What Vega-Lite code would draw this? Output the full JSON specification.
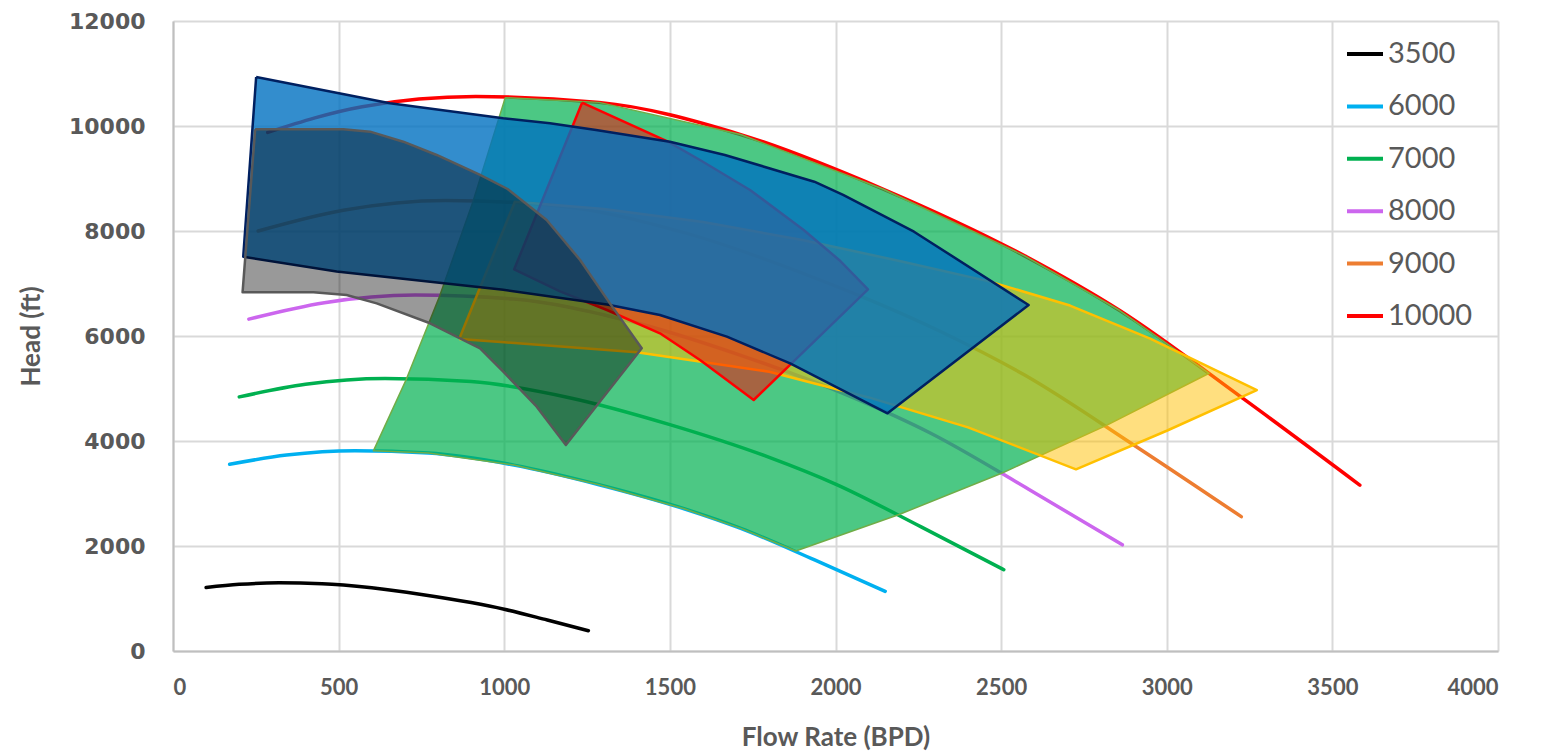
{
  "$schema": "https://vega.github.io/schema/vega-lite/v6.json",
  "width": 1325,
  "height": 630,
  "autosize": {"type": "none"},
  "padding": {"left": 173, "top": 21, "right": 46, "bottom": 103},
  "background": "white",
  "config": {
    "view": {"stroke": null},
    "font": "Lato",
    "axis": {
      "grid": true, "gridColor": "#D9D9D9", "gridWidth": 2,
      "domainColor": "#BFBFBF", "domainWidth": 2, "ticks": false,
      "labelColor": "#595959", "labelFontWeight": "bold",
      "titleColor": "#595959", "titleFontWeight": "bold", "titleFontSize": 26, "titleFont": "Lato"
    },
    "legend": {
      "orient": "none", "legendX": 1172, "legendY": 13, "padding": 0,
      "symbolType": "stroke", "symbolSize": 1296, "symbolStrokeWidth": 4,
      "labelFontSize": 29, "labelColor": "#595959", "labelFont": "Lato",
      "rowPadding": 17.4, "labelOffset": 3
    }
  },
  "datasets": {
    "curves": [
      {"speed": "3500", "q": 100, "h": 1210}, {"speed": "3500", "q": 200, "h": 1270}, {"speed": "3500", "q": 320, "h": 1298}, {"speed": "3500", "q": 450, "h": 1283}, {"speed": "3500", "q": 600, "h": 1205}, {"speed": "3500", "q": 750, "h": 1078}, {"speed": "3500", "q": 900, "h": 922}, {"speed": "3500", "q": 1000, "h": 795}, {"speed": "3500", "q": 1130, "h": 590}, {"speed": "3500", "q": 1254, "h": 387},
      {"speed": "6000", "q": 171, "h": 3556}, {"speed": "6000", "q": 343, "h": 3732}, {"speed": "6000", "q": 549, "h": 3815}, {"speed": "6000", "q": 771, "h": 3770}, {"speed": "6000", "q": 1029, "h": 3541}, {"speed": "6000", "q": 1286, "h": 3168}, {"speed": "6000", "q": 1543, "h": 2710}, {"speed": "6000", "q": 1714, "h": 2336}, {"speed": "6000", "q": 1937, "h": 1734}, {"speed": "6000", "q": 2150, "h": 1137},
      {"speed": "7000", "q": 200, "h": 4840}, {"speed": "7000", "q": 400, "h": 5080}, {"speed": "7000", "q": 640, "h": 5192}, {"speed": "7000", "q": 900, "h": 5132}, {"speed": "7000", "q": 1200, "h": 4820}, {"speed": "7000", "q": 1500, "h": 4312}, {"speed": "7000", "q": 1800, "h": 3688}, {"speed": "7000", "q": 2000, "h": 3180}, {"speed": "7000", "q": 2260, "h": 2360}, {"speed": "7000", "q": 2508, "h": 1548},
      {"speed": "8000", "q": 229, "h": 6322}, {"speed": "8000", "q": 457, "h": 6635}, {"speed": "8000", "q": 731, "h": 6781}, {"speed": "8000", "q": 1029, "h": 6703}, {"speed": "8000", "q": 1371, "h": 6295}, {"speed": "8000", "q": 1714, "h": 5632}, {"speed": "8000", "q": 2057, "h": 4817}, {"speed": "8000", "q": 2286, "h": 4153}, {"speed": "8000", "q": 2583, "h": 3082}, {"speed": "8000", "q": 2866, "h": 2022},
      {"speed": "9000", "q": 257, "h": 8001}, {"speed": "9000", "q": 514, "h": 8397}, {"speed": "9000", "q": 823, "h": 8583}, {"speed": "9000", "q": 1157, "h": 8483}, {"speed": "9000", "q": 1543, "h": 7968}, {"speed": "9000", "q": 1929, "h": 7128}, {"speed": "9000", "q": 2314, "h": 6096}, {"speed": "9000", "q": 2571, "h": 5257}, {"speed": "9000", "q": 2906, "h": 3901}, {"speed": "9000", "q": 3225, "h": 2559},
      {"speed": "10000", "q": 286, "h": 9878}, {"speed": "10000", "q": 571, "h": 10367}, {"speed": "10000", "q": 914, "h": 10560}, {"speed": "10000", "q": 1286, "h": 10450}, {"speed": "10000", "q": 1714, "h": 9837}, {"speed": "10000", "q": 2143, "h": 8800}, {"speed": "10000", "q": 2571, "h": 7527}, {"speed": "10000", "q": 2857, "h": 6490}, {"speed": "10000", "q": 3229, "h": 4816}, {"speed": "10000", "q": 3583, "h": 3159}
    ],
    "polys": [
      {"poly": "g", "i": 0, "q": 1003, "h": 10540}, {"poly": "g", "i": 1, "q": 1286, "h": 10450}, {"poly": "g", "i": 2, "q": 1714, "h": 9837}, {"poly": "g", "i": 3, "q": 2143, "h": 8800}, {"poly": "g", "i": 4, "q": 2571, "h": 7527}, {"poly": "g", "i": 5, "q": 2857, "h": 6490}, {"poly": "g", "i": 6, "q": 3128, "h": 5290}, {"poly": "g", "i": 7, "q": 2818, "h": 4298}, {"poly": "g", "i": 8, "q": 2505, "h": 3396}, {"poly": "g", "i": 9, "q": 2192, "h": 2600}, {"poly": "g", "i": 10, "q": 1880, "h": 1905}, {"poly": "g", "i": 11, "q": 1714, "h": 2336}, {"poly": "g", "i": 12, "q": 1543, "h": 2710}, {"poly": "g", "i": 13, "q": 1286, "h": 3168}, {"poly": "g", "i": 14, "q": 1029, "h": 3541}, {"poly": "g", "i": 15, "q": 771, "h": 3770}, {"poly": "g", "i": 16, "q": 605, "h": 3812}, {"poly": "g", "i": 17, "q": 704, "h": 5170}, {"poly": "g", "i": 18, "q": 805, "h": 6760}, {"poly": "g", "i": 19, "q": 905, "h": 8550}, {"poly": "g", "i": 20, "q": 1003, "h": 10540},
      {"poly": "y", "i": 0, "q": 864, "h": 5943}, {"poly": "y", "i": 1, "q": 1032, "h": 8558}, {"poly": "y", "i": 2, "q": 1300, "h": 8420}, {"poly": "y", "i": 3, "q": 1600, "h": 8170}, {"poly": "y", "i": 4, "q": 1900, "h": 7830}, {"poly": "y", "i": 5, "q": 2200, "h": 7420}, {"poly": "y", "i": 6, "q": 2464, "h": 7040}, {"poly": "y", "i": 7, "q": 2708, "h": 6580}, {"poly": "y", "i": 8, "q": 2950, "h": 5950}, {"poly": "y", "i": 9, "q": 3272, "h": 4971}, {"poly": "y", "i": 10, "q": 3000, "h": 4195}, {"poly": "y", "i": 11, "q": 2726, "h": 3461}, {"poly": "y", "i": 12, "q": 2400, "h": 4260}, {"poly": "y", "i": 13, "q": 2100, "h": 4830}, {"poly": "y", "i": 14, "q": 1800, "h": 5320}, {"poly": "y", "i": 15, "q": 1400, "h": 5690}, {"poly": "y", "i": 16, "q": 1000, "h": 5880}, {"poly": "y", "i": 17, "q": 864, "h": 5943},
      {"poly": "r", "i": 0, "q": 1235, "h": 10444}, {"poly": "r", "i": 1, "q": 1494, "h": 9701}, {"poly": "r", "i": 2, "q": 1591, "h": 9352}, {"poly": "r", "i": 3, "q": 1742, "h": 8781}, {"poly": "r", "i": 4, "q": 1904, "h": 8019}, {"poly": "r", "i": 5, "q": 2011, "h": 7448}, {"poly": "r", "i": 6, "q": 2098, "h": 6890}, {"poly": "r", "i": 7, "q": 1753, "h": 4781}, {"poly": "r", "i": 8, "q": 1591, "h": 5543}, {"poly": "r", "i": 9, "q": 1470, "h": 6051}, {"poly": "r", "i": 10, "q": 1310, "h": 6495}, {"poly": "r", "i": 11, "q": 1170, "h": 6845}, {"poly": "r", "i": 12, "q": 1030, "h": 7270}, {"poly": "r", "i": 13, "q": 1235, "h": 10444},
      {"poly": "b", "i": 0, "q": 251, "h": 10933}, {"poly": "b", "i": 1, "q": 655, "h": 10432}, {"poly": "b", "i": 2, "q": 997, "h": 10147}, {"poly": "b", "i": 3, "q": 1138, "h": 10051}, {"poly": "b", "i": 4, "q": 1277, "h": 9924}, {"poly": "b", "i": 5, "q": 1500, "h": 9701}, {"poly": "b", "i": 6, "q": 1666, "h": 9448}, {"poly": "b", "i": 7, "q": 1936, "h": 8939}, {"poly": "b", "i": 8, "q": 2023, "h": 8686}, {"poly": "b", "i": 9, "q": 2237, "h": 7987}, {"poly": "b", "i": 10, "q": 2583, "h": 6590}, {"poly": "b", "i": 11, "q": 2157, "h": 4527}, {"poly": "b", "i": 12, "q": 1863, "h": 5479}, {"poly": "b", "i": 13, "q": 1672, "h": 5987}, {"poly": "b", "i": 14, "q": 1470, "h": 6400}, {"poly": "b", "i": 15, "q": 1310, "h": 6600}, {"poly": "b", "i": 16, "q": 997, "h": 6880}, {"poly": "b", "i": 17, "q": 494, "h": 7230}, {"poly": "b", "i": 18, "q": 212, "h": 7510}, {"poly": "b", "i": 19, "q": 251, "h": 10933},
      {"poly": "d", "i": 0, "q": 248, "h": 9937}, {"poly": "d", "i": 1, "q": 514, "h": 9937}, {"poly": "d", "i": 2, "q": 595, "h": 9892}, {"poly": "d", "i": 3, "q": 695, "h": 9701}, {"poly": "d", "i": 4, "q": 796, "h": 9448}, {"poly": "d", "i": 5, "q": 927, "h": 9067}, {"poly": "d", "i": 6, "q": 1010, "h": 8800}, {"poly": "d", "i": 7, "q": 1128, "h": 8210}, {"poly": "d", "i": 8, "q": 1229, "h": 7448}, {"poly": "d", "i": 9, "q": 1319, "h": 6622}, {"poly": "d", "i": 10, "q": 1415, "h": 5765}, {"poly": "d", "i": 11, "q": 1186, "h": 3924}, {"poly": "d", "i": 12, "q": 1098, "h": 4654}, {"poly": "d", "i": 13, "q": 997, "h": 5321}, {"poly": "d", "i": 14, "q": 927, "h": 5765}, {"poly": "d", "i": 15, "q": 776, "h": 6242}, {"poly": "d", "i": 16, "q": 615, "h": 6622}, {"poly": "d", "i": 17, "q": 524, "h": 6781}, {"poly": "d", "i": 18, "q": 424, "h": 6832}, {"poly": "d", "i": 19, "q": 210, "h": 6832}, {"poly": "d", "i": 20, "q": 248, "h": 9937}
    ]
  },
  "encoding": {
    "x": {
      "field": "q", "type": "quantitative",
      "scale": {"domain": [0, 4000], "nice": false, "zero": false},
      "axis": {"values": [0, 500, 1000, 1500, 2000, 2500, 3000, 3500, 4000], "title": "Flow Rate (BPD)", "format": "d", "labelFont": "Lato", "labelFontSize": 22, "labelPadding": 26, "titlePadding": 26}
    },
    "y": {
      "field": "h", "type": "quantitative",
      "scale": {"domain": [0, 12000], "nice": false, "zero": false},
      "axis": {"values": [0, 2000, 4000, 6000, 8000, 10000, 12000], "title": "Head (ft)", "labelFont": "DejaVu Sans", "labelFontSize": 22, "labelPadding": 28, "titlePadding": 24, "format": "d"}
    }
  },
  "layer": [
    {
      "data": {"name": "curves"},
      "mark": {"type": "line", "strokeWidth": 3.5, "interpolate": "monotone", "strokeCap": "round"},
      "encoding": {
        "color": {
          "field": "speed", "type": "nominal",
          "scale": {"domain": ["3500", "6000", "7000", "8000", "9000", "10000"], "range": ["#000000", "#00B0F0", "#00B050", "#CC66EE", "#ED7D31", "#FF0000"]},
          "legend": {"title": null}
        },
        "detail": {"field": "speed"}
      }
    },
    {
      "data": {"name": "polys"},
      "transform": [{"filter": "datum.poly === 'g'"}],
      "mark": {"type": "line", "fill": "#00B050", "fillOpacity": 0.7, "stroke": "#70AD47", "strokeWidth": 1.5, "interpolate": "linear", "strokeJoin": "round"},
      "encoding": {"order": {"field": "i", "type": "quantitative"}}
    },
    {
      "data": {"name": "polys"},
      "transform": [{"filter": "datum.poly === 'y'"}],
      "mark": {"type": "line", "fill": "#FFC000", "fillOpacity": 0.5, "stroke": "#FFC000", "strokeWidth": 2.5, "interpolate": "linear", "strokeJoin": "round"},
      "encoding": {"order": {"field": "i", "type": "quantitative"}}
    },
    {
      "data": {"name": "polys"},
      "transform": [{"filter": "datum.poly === 'r'"}],
      "mark": {"type": "line", "fill": "#FF0000", "fillOpacity": 0.5, "stroke": "#FF0000", "strokeWidth": 2.5, "interpolate": "linear", "strokeJoin": "round"},
      "encoding": {"order": {"field": "i", "type": "quantitative"}}
    },
    {
      "data": {"name": "polys"},
      "transform": [{"filter": "datum.poly === 'b'"}],
      "mark": {"type": "line", "fill": "#0070C0", "fillOpacity": 0.8, "stroke": "#002060", "strokeWidth": 2.5, "interpolate": "linear", "strokeJoin": "round"},
      "encoding": {"order": {"field": "i", "type": "quantitative"}}
    },
    {
      "data": {"name": "polys"},
      "transform": [{"filter": "datum.poly === 'd'"}],
      "mark": {"type": "line", "fill": "#000000", "fillOpacity": 0.4, "stroke": "#595959", "strokeWidth": 2.5, "interpolate": "linear", "strokeJoin": "round"},
      "encoding": {"order": {"field": "i", "type": "quantitative"}}
    }
  ]
}
